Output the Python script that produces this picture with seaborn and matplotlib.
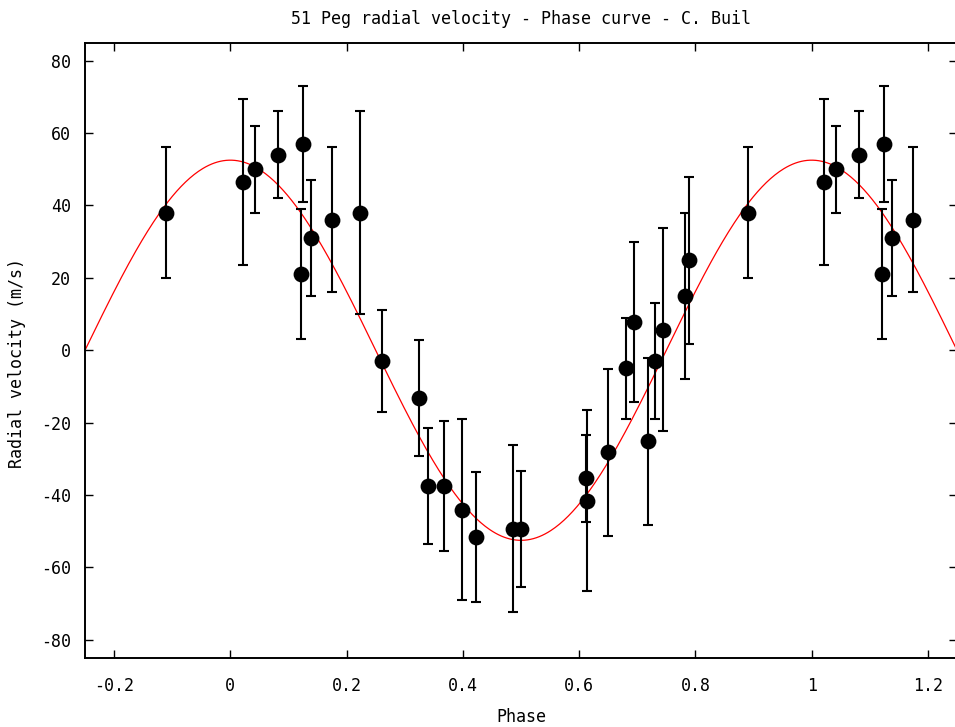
import numpy as np
import pandas as pd
import seaborn as sns
import matplotlib
matplotlib.use("Agg")
import matplotlib.pyplot as plt

# Measured radial velocities of 51 Peg, folded on the orbital period
phase = [0.022, 0.042, 0.082, 0.121, 0.125, 0.138, 0.175, 0.223, 0.261, 0.324,
         0.340, 0.367, 0.398, 0.423, 0.487, 0.500, 0.612, 0.614, 0.649, 0.680,
         0.694, 0.718, 0.731, 0.745, 0.782, 0.789, 0.890]
velocity = [46.5, 50.0, 54.0, 21.0, 57.0, 31.0, 36.0, 38.0, -3.0, -13.3,
            -37.5, -37.5, -44.0, -51.5, -49.3, -49.3, -35.3, -41.5, -28.2, -5.0,
            7.8, -25.2, -3.0, 5.7, 15.0, 24.8, 38.0]
error = [23, 12, 12, 18, 16, 16, 20, 28, 14, 16,
         16, 18, 25, 18, 23, 16, 12, 25, 23, 14,
         22, 23, 16, 28, 23, 23, 18]

# semi-amplitude of the fitted curve (m/s)
amplitude = 52.5

xticks = [-0.2, 0, 0.2, 0.4, 0.6, 0.8, 1, 1.2]
xtick_labels = ['-0.2', '0', '0.2', '0.4', '0.6', '0.8', '1', '1.2']
yticks = [-80, -60, -40, -20, 0, 20, 40, 60, 80]
ytick_labels = ['-80', '-60', '-40', '-20', '0', '20', '40', '60', '80']

df = pd.DataFrame({'phase': phase, 'velocity': velocity, 'error': error})
# repeat the ends of the cycle so the curve shows more than one period
left = df[df.phase > 0.85].assign(phase=lambda d: d.phase - 1)
right = df[df.phase < 0.2].assign(phase=lambda d: d.phase + 1)
points = pd.concat([left, df, right], ignore_index=True)

sns.set_style("ticks")
plt.rcParams['font.family'] = ['DejaVu Sans Mono']
plt.rcParams['axes.unicode_minus'] = False
plt.rcParams['text.color'] = 'black'
plt.rcParams['axes.labelcolor'] = 'black'

fig = plt.figure(figsize=(9.55, 7.27), dpi=100)
ax = fig.add_axes([85 / 955, 69 / 727, 872 / 955, 615.5 / 727])

# fitted sine curve
grid = np.linspace(-0.25, 1.25, 600)
sns.lineplot(x=grid, y=amplitude * np.cos(2 * np.pi * grid), color='red',
             linewidth=0.9, ax=ax, zorder=2)

# error bars then the points on top
ax.errorbar(points.phase, points.velocity, yerr=points.error, fmt='none',
            ecolor='black', elinewidth=1.5, capsize=3.5, capthick=1.5, zorder=3)
sns.scatterplot(data=points, x='phase', y='velocity', color='black', s=130,
                linewidth=0, ax=ax, zorder=4)

ax.set_xlim(-0.25, 1.25)
ax.set_ylim(-85, 85)
ax.set_xticks(xticks)
ax.set_xticklabels(xtick_labels)
ax.set_yticks(yticks)
ax.set_yticklabels(ytick_labels)
ax.tick_params(direction='in', length=6, width=1, top=True, right=True,
               labelsize=12, colors='black')
ax.tick_params(axis='x', pad=14)
ax.tick_params(axis='y', pad=10)
for s in ax.spines.values():
    s.set_linewidth(1.4)
    s.set_color('black')

ax.set_title("51 Peg radial velocity - Phase curve - C. Buil", fontsize=12,
             pad=13, color='black')
ax.set_xlabel("Phase", fontsize=12)
ax.xaxis.set_label_coords(0.5, -(708 - 658) / 615.5)
ax.set_ylabel("Radial velocity (m/s)", fontsize=12)
ax.yaxis.set_label_coords(-(85 - 26) / 872, 0.48)

fig.savefig("out.png", dpi=100)
